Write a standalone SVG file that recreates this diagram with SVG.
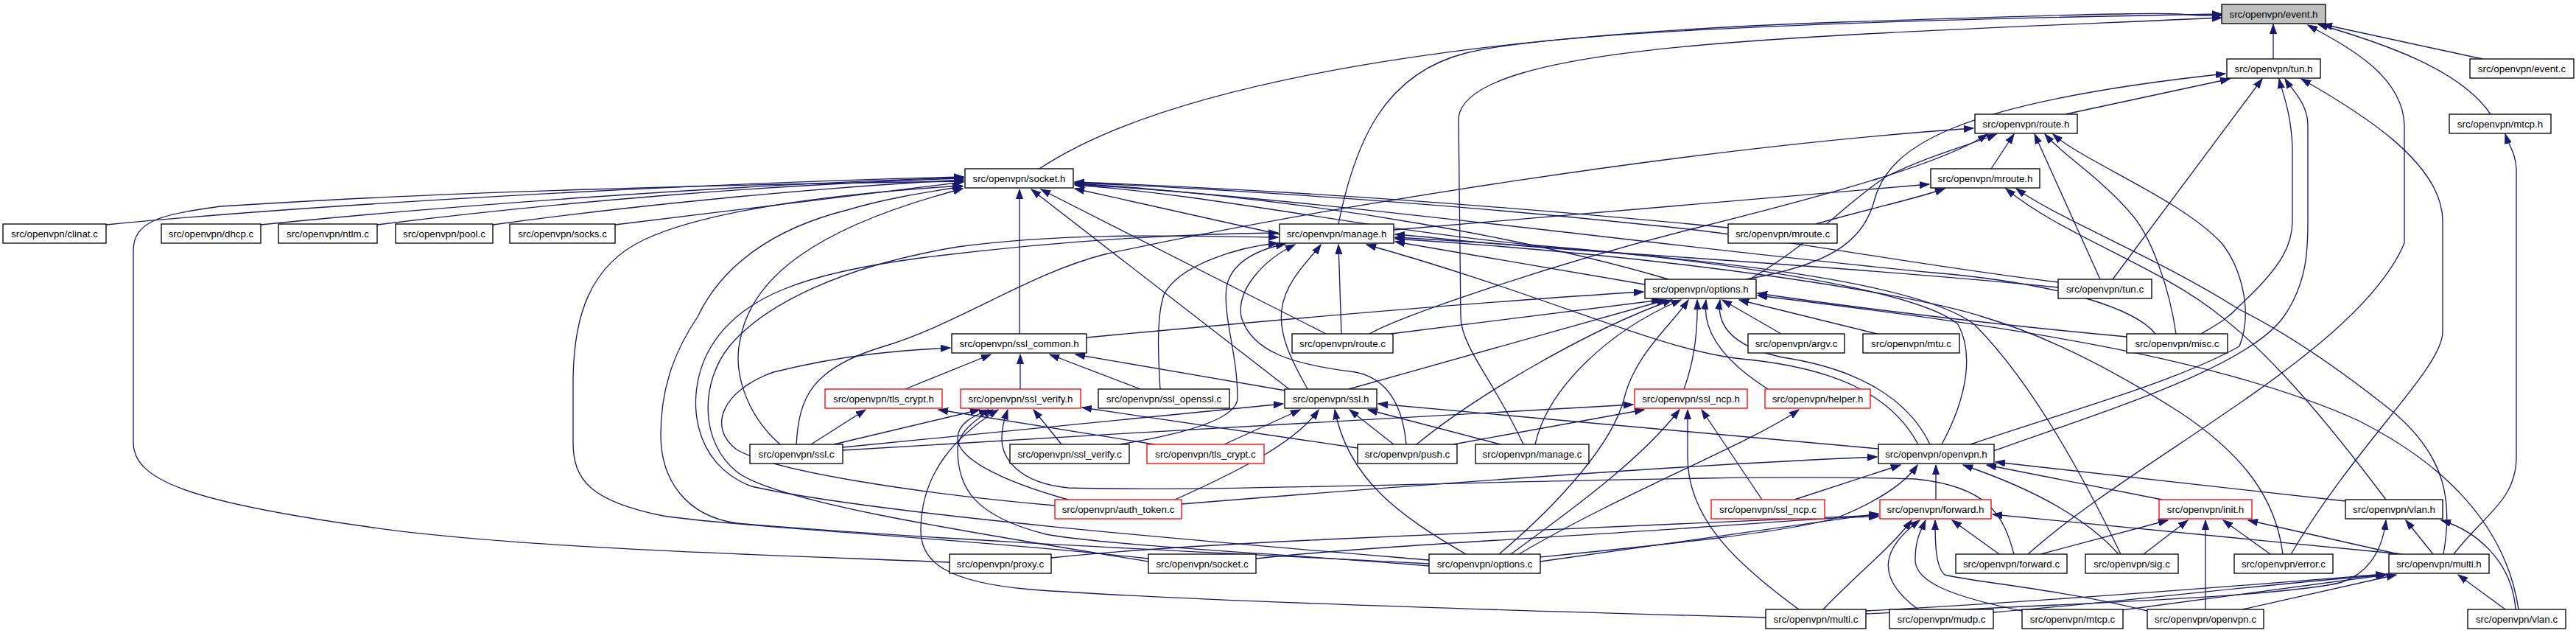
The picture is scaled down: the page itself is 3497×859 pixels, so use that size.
<svg xmlns="http://www.w3.org/2000/svg" width="3497" height="859" viewBox="0 0 3497 859">
<style>
.n rect{fill:#fff;stroke:#000;stroke-width:1.33}
.n.r rect{stroke:#ff0000}
.n.g rect{fill:#bfbfbf}
.n text{font-family:"Liberation Sans",Arial,sans-serif;font-size:13.33px;text-anchor:middle;fill:#000}
.e path{fill:none;stroke:#191970;stroke-width:1.33;marker-end:url(#arr)}
</style>
<defs>
<marker id="arr" viewBox="0 0 14 10" markerWidth="14" markerHeight="10" refX="13" refY="5" orient="auto" markerUnits="userSpaceOnUse"><path d="M0,0.5 L13,5 L0,9.5 z" fill="#191970" stroke="#191970" stroke-width="1"/></marker>
</defs>
<rect width="3497" height="859" fill="#fff"/>
<g id="connectors" class="e">
<path d="M1411,229 C1560,130 1900,50 2500,30 S2900,22 3016,21"/>
<path d="M1817,304 C1840,190 1880,100 1990,72 S2500,28 3016,19"/>
<path d="M2068,603 C2030,520 1983,470 1983,430 L1980,160 C1985,110 2100,80 2300,62 S2800,34 3016,24"/>
<path d="M3086,80 L3086,33"/>
<path d="M3370,80 L3153,33"/>
<path d="M3381,155 C3340,95 3240,60 3147,33"/>
<path d="M2753,752 C2900,620 3200,480 3264,330 L3264,170 C3262,100 3180,60 3133,34"/>
<path d="M2804,155 L3027,107"/>
<path d="M2370,379 C2480,360 2530,330 2545,270 C2565,200 2650,140 3021,100"/>
<path d="M2868,379 L3071,107"/>
<path d="M2706,612 C2850,560 3050,500 3100,430 C3135,380 3133,330 3133,290 L3133,170 C3133,140 3110,120 3102,107"/>
<path d="M2988,453 C3010,440 3025,432 3040,415 C3100,360 3112,330 3112,300 L3112,200 C3110,150 3098,125 3094,107"/>
<path d="M3110,752 C3200,600 3316,500 3316,450 L3316,300 C3316,220 3200,150 3124,107"/>
<path d="M3331,752 C3370,700 3416,680 3416,620 L3416,230 C3416,210 3405,195 3401,182"/>
<path d="M2703,229 L2734,182"/>
<path d="M2851,379 L2762,182"/>
<path d="M2954,453 C2945,390 2920,320 2893,290 C2850,240 2800,210 2776,182"/>
<path d="M2675,603 C2800,560 2950,520 3040,470 C3060,420 3040,360 3016,330 C2960,270 2830,220 2787,182"/>
<path d="M1081,603 C1085,540 1100,500 1200,470 C1300,440 1400,370 1500,345 C1800,280 2300,200 2679,174"/>
<path d="M1859,453 C1900,430 2100,360 2300,310 C2500,260 2640,220 2698,182"/>
<path d="M2375,379 C2460,330 2500,280 2560,240 C2620,210 2680,195 2710,182"/>
<path d="M1892,312 L2619,250"/>
<path d="M2465,304 C2530,285 2600,270 2640,256"/>
<path d="M3239,678 C3150,560 3080,480 3016,430 C2930,360 2800,320 2723,256"/>
<path d="M3317,752 C3330,680 3320,620 3250,560 C3150,480 3080,440 3040,420 C2930,350 2800,300 2737,256"/>
<path d="M144,305 C400,280 900,250 1308,240"/>
<path d="M354,305 C600,280 1000,250 1308,241"/>
<path d="M512,305 C750,275 1050,250 1308,242"/>
<path d="M669,305 C850,280 1100,255 1308,244"/>
<path d="M835,305 C1000,285 1200,260 1308,247"/>
<path d="M1289,763 C1100,755 700,745 500,715 C250,680 181,650 181,600 L181,340 C181,300 220,290 300,280 C600,260 1000,250 1308,246"/>
<path d="M1559,758 C1300,730 1000,715 900,700 C800,680 778,650 778,600 L778,520 C778,430 800,360 875,325 C950,290 1100,265 1306,252"/>
<path d="M1940,765 C1700,752 1300,735 1000,710 C930,700 897,650 897,590 C897,520 920,470 947,430 C980,360 1050,310 1150,285 C1200,270 1250,262 1307,253"/>
<path d="M1059,603 C1010,560 995,500 1005,460 C1020,380 1100,310 1307,256"/>
<path d="M1384,453 L1384,257"/>
<path d="M1750,528 L1400,257"/>
<path d="M1800,453 L1413,257"/>
<path d="M1737,318 L1459,256"/>
<path d="M2346,309 C2100,285 1800,260 1459,247"/>
<path d="M2794,383 C2600,360 2400,320 2235,305 C2000,280 1700,258 1459,248"/>
<path d="M2265,379 C2100,330 1800,270 1459,249"/>
<path d="M2636,603 C2670,540 2680,480 2658,440 C2600,390 2300,350 2085,333 C1850,310 1650,265 1459,251"/>
<path d="M2926,453 C2900,420 2800,385 2625,370 C2300,340 1800,270 1459,250"/>
<path d="M1559,762 C1300,720 1050,680 1000,640 C950,600 950,520 990,470 C1040,410 1150,360 1300,335 C1450,315 1600,320 1735,322"/>
<path d="M1940,760 C1700,740 1200,700 1020,660 C940,630 930,540 960,480 C1000,400 1100,370 1250,350 C1450,325 1600,318 1735,316"/>
<path d="M1575,528 C1572,480 1570,430 1580,400 C1600,360 1680,335 1735,330"/>
<path d="M1520,603 C1600,590 1680,570 1680,540 C1680,480 1660,430 1665,390 C1670,360 1700,340 1745,331"/>
<path d="M1909,603 C1905,560 1890,515 1840,505 C1760,495 1700,480 1685,430 C1678,390 1720,350 1758,332"/>
<path d="M1775,528 C1760,500 1735,460 1740,420 C1745,380 1780,350 1793,332"/>
<path d="M1821,453 L1817,332"/>
<path d="M2604,603 C2570,540 2500,500 2364,487 C2250,475 2100,400 1855,332"/>
<path d="M2233,386 L1894,328"/>
<path d="M2794,390 C2600,370 2300,350 2150,340 C2000,330 1950,322 1894,318"/>
<path d="M2879,752 C2830,650 2760,520 2680,440 C2600,380 2300,345 1894,322"/>
<path d="M3099,752 C3090,680 3050,620 2960,560 C2850,490 2760,450 2692,430 C2600,400 2300,350 1894,324"/>
<path d="M1475,458 C1700,437 2000,410 2231,396"/>
<path d="M1888,453 L2255,407"/>
<path d="M1831,528 L2262,407"/>
<path d="M1923,603 C2000,540 2150,450 2270,407"/>
<path d="M2084,603 C2100,530 2180,450 2282,407"/>
<path d="M2035,752 C2120,680 2190,600 2205,540 C2220,480 2270,440 2292,407"/>
<path d="M2286,528 C2300,490 2305,450 2304,407"/>
<path d="M2400,528 C2340,490 2310,450 2316,407"/>
<path d="M2418,453 L2338,407"/>
<path d="M2548,453 L2361,407"/>
<path d="M2887,457 C2700,440 2500,415 2386,398"/>
<path d="M3419,827 C3400,700 3300,620 3200,570 C3000,480 2700,440 2386,401"/>
<path d="M2620,603 C2590,540 2520,500 2420,485 C2350,470 2330,440 2335,407"/>
<path d="M1432,686 C1250,670 1050,640 1000,610 C960,580 980,530 1050,505 C1150,480 1230,475 1290,472"/>
<path d="M1229,528 L1345,481"/>
<path d="M1385,528 L1385,481"/>
<path d="M1548,528 L1425,481"/>
<path d="M1745,530 L1460,481"/>
<path d="M1101,603 L1175,556"/>
<path d="M1567,603 L1274,556"/>
<path d="M1132,603 L1330,556"/>
<path d="M1450,678 C1350,650 1300,620 1300,595 C1300,575 1320,565 1342,556"/>
<path d="M1940,768 C1750,752 1500,740 1420,725 C1320,700 1300,660 1300,610 C1300,585 1330,565 1348,556"/>
<path d="M2397,838 C2100,830 1600,815 1400,800 C1280,790 1250,760 1250,720 C1250,640 1300,590 1355,556"/>
<path d="M2734,752 C2720,700 2700,660 2600,650 C2300,640 1700,670 1450,662 C1380,655 1360,620 1360,595 C1360,575 1365,565 1368,556"/>
<path d="M1441,603 L1403,556"/>
<path d="M1843,608 L1469,553"/>
<path d="M1144,607 L1742,548"/>
<path d="M1662,603 L1765,556"/>
<path d="M1595,678 C1680,640 1760,600 1790,556"/>
<path d="M1990,752 C1900,700 1830,650 1812,556"/>
<path d="M1892,603 L1832,556"/>
<path d="M2037,603 L1857,556"/>
<path d="M2550,609 L1871,548"/>
<path d="M1144,611 C1500,590 1900,565 2217,549"/>
<path d="M1973,603 L2232,556"/>
<path d="M2051,752 C2150,680 2230,620 2280,556"/>
<path d="M2442,827 C2350,760 2291,700 2291,620 L2291,556"/>
<path d="M2392,678 L2310,556"/>
<path d="M2062,752 C2200,670 2380,600 2442,556"/>
<path d="M2628,678 L2628,631"/>
<path d="M2935,678 L2697,631"/>
<path d="M3184,680 L2709,627"/>
<path d="M2876,752 C2830,700 2750,660 2665,631"/>
<path d="M2436,678 L2580,631"/>
<path d="M2091,756 C2250,740 2450,720 2500,700 C2560,675 2590,650 2603,631"/>
<path d="M1604,684 C1900,660 2300,630 2548,620"/>
<path d="M2091,762 C2250,740 2450,710 2550,697"/>
<path d="M1427,757 C1550,744 1700,737 1800,732 C2100,718 2400,705 2550,699"/>
<path d="M1705,758 C1850,742 2100,730 2300,716 S2500,702 2550,701"/>
<path d="M2714,752 L2650,706"/>
<path d="M2915,829 C2800,800 2680,790 2640,780 C2628,770 2627,740 2627,706"/>
<path d="M2475,827 C2520,780 2570,740 2595,706"/>
<path d="M2604,827 C2540,780 2560,740 2606,706"/>
<path d="M2750,830 C2650,810 2600,790 2600,760 C2600,730 2608,720 2614,706"/>
<path d="M3261,752 L2705,698"/>
<path d="M2770,752 L2943,706"/>
<path d="M2910,752 L2970,706"/>
<path d="M2994,827 L2994,706"/>
<path d="M3082,752 L3018,706"/>
<path d="M3256,752 L3052,706"/>
<path d="M2533,833 C2800,820 3100,810 3180,790 C3220,775 3235,740 3239,706"/>
<path d="M3303,752 L3266,706"/>
<path d="M3415,827 C3410,760 3360,720 3314,706"/>
<path d="M2533,829 C2800,815 3100,790 3238,779"/>
<path d="M2706,831 C2900,815 3100,790 3240,780"/>
<path d="M2880,828 L3240,780"/>
<path d="M3044,827 L3253,780"/>
<path d="M3401,827 L3337,780"/>
</g>
<g id="n-event_h" class="n g"><rect x="3016" y="6" width="141" height="26"/><text x="3086.5" y="24">src/openvpn/event.h</text></g>
<g id="n-tun_h" class="n"><rect x="3023" y="80" width="127" height="26"/><text x="3086.5" y="98">src/openvpn/tun.h</text></g>
<g id="n-event_c" class="n"><rect x="3353" y="80" width="141" height="26"/><text x="3423.5" y="98">src/openvpn/event.c</text></g>
<g id="n-route_h" class="n"><rect x="2681" y="155" width="139" height="26"/><text x="2750.5" y="173">src/openvpn/route.h</text></g>
<g id="n-mtcp_h" class="n"><rect x="3325" y="155" width="138" height="26"/><text x="3394" y="173">src/openvpn/mtcp.h</text></g>
<g id="n-socket_h" class="n"><rect x="1310" y="229" width="147" height="26"/><text x="1383.5" y="247">src/openvpn/socket.h</text></g>
<g id="n-mroute_h" class="n"><rect x="2621" y="229" width="148" height="26"/><text x="2695" y="247">src/openvpn/mroute.h</text></g>
<g id="n-clinat_c" class="n"><rect x="4" y="304" width="140" height="26"/><text x="74" y="322">src/openvpn/clinat.c</text></g>
<g id="n-dhcp_c" class="n"><rect x="219" y="304" width="135" height="26"/><text x="286.5" y="322">src/openvpn/dhcp.c</text></g>
<g id="n-ntlm_c" class="n"><rect x="378" y="304" width="134" height="26"/><text x="445" y="322">src/openvpn/ntlm.c</text></g>
<g id="n-pool_c" class="n"><rect x="537" y="304" width="132" height="26"/><text x="603" y="322">src/openvpn/pool.c</text></g>
<g id="n-socks_c" class="n"><rect x="692" y="304" width="143" height="26"/><text x="763.5" y="322">src/openvpn/socks.c</text></g>
<g id="n-manage_h" class="n"><rect x="1737" y="304" width="155" height="26"/><text x="1814.5" y="322">src/openvpn/manage.h</text></g>
<g id="n-mroute_c" class="n"><rect x="2346" y="304" width="148" height="26"/><text x="2420" y="322">src/openvpn/mroute.c</text></g>
<g id="n-options_h" class="n"><rect x="2233" y="379" width="151" height="26"/><text x="2308.5" y="397">src/openvpn/options.h</text></g>
<g id="n-tun_c" class="n"><rect x="2794" y="379" width="127" height="26"/><text x="2857.5" y="397">src/openvpn/tun.c</text></g>
<g id="n-ssl_common_h" class="n"><rect x="1292" y="453" width="183" height="26"/><text x="1383.5" y="471">src/openvpn/ssl_common.h</text></g>
<g id="n-route_c" class="n"><rect x="1754" y="453" width="137" height="26"/><text x="1822.5" y="471">src/openvpn/route.c</text></g>
<g id="n-argv_c" class="n"><rect x="2373" y="453" width="131" height="26"/><text x="2438.5" y="471">src/openvpn/argv.c</text></g>
<g id="n-mtu_c" class="n"><rect x="2529" y="453" width="131" height="26"/><text x="2594.5" y="471">src/openvpn/mtu.c</text></g>
<g id="n-misc_c" class="n"><rect x="2887" y="453" width="137" height="26"/><text x="2955.5" y="471">src/openvpn/misc.c</text></g>
<g id="n-tls_crypt_h" class="n r"><rect x="1120" y="528" width="159" height="26"/><text x="1199.5" y="546">src/openvpn/tls_crypt.h</text></g>
<g id="n-ssl_verify_h" class="n r"><rect x="1304" y="528" width="163" height="26"/><text x="1385.5" y="546">src/openvpn/ssl_verify.h</text></g>
<g id="n-ssl_openssl_c" class="n"><rect x="1491" y="528" width="178" height="26"/><text x="1580" y="546">src/openvpn/ssl_openssl.c</text></g>
<g id="n-ssl_h" class="n"><rect x="1744" y="528" width="125" height="26"/><text x="1806.5" y="546">src/openvpn/ssl.h</text></g>
<g id="n-ssl_ncp_h" class="n r"><rect x="2219" y="528" width="153" height="26"/><text x="2295.5" y="546">src/openvpn/ssl_ncp.h</text></g>
<g id="n-helper_h" class="n r"><rect x="2396" y="528" width="143" height="26"/><text x="2467.5" y="546">src/openvpn/helper.h</text></g>
<g id="n-ssl_c" class="n"><rect x="1018" y="603" width="126" height="26"/><text x="1081" y="621">src/openvpn/ssl.c</text></g>
<g id="n-ssl_verify_c" class="n"><rect x="1371" y="603" width="162" height="26"/><text x="1452" y="621">src/openvpn/ssl_verify.c</text></g>
<g id="n-tls_crypt_c" class="n r"><rect x="1557" y="603" width="159" height="26"/><text x="1636.5" y="621">src/openvpn/tls_crypt.c</text></g>
<g id="n-push_c" class="n"><rect x="1843" y="603" width="135" height="26"/><text x="1910.5" y="621">src/openvpn/push.c</text></g>
<g id="n-manage_c" class="n"><rect x="2003" y="603" width="154" height="26"/><text x="2080" y="621">src/openvpn/manage.c</text></g>
<g id="n-openvpn_h" class="n"><rect x="2550" y="603" width="157" height="26"/><text x="2628.5" y="621">src/openvpn/openvpn.h</text></g>
<g id="n-auth_token_c" class="n r"><rect x="1432" y="678" width="172" height="26"/><text x="1518" y="696">src/openvpn/auth_token.c</text></g>
<g id="n-ssl_ncp_c" class="n r"><rect x="2323" y="678" width="154" height="26"/><text x="2400" y="696">src/openvpn/ssl_ncp.c</text></g>
<g id="n-forward_h" class="n r"><rect x="2552" y="678" width="151" height="26"/><text x="2627.5" y="696">src/openvpn/forward.h</text></g>
<g id="n-init_h" class="n r"><rect x="2931" y="678" width="126" height="26"/><text x="2994" y="696">src/openvpn/init.h</text></g>
<g id="n-vlan_h" class="n"><rect x="3184" y="678" width="132" height="26"/><text x="3250" y="696">src/openvpn/vlan.h</text></g>
<g id="n-proxy_c" class="n"><rect x="1289" y="752" width="138" height="26"/><text x="1358" y="770">src/openvpn/proxy.c</text></g>
<g id="n-socket_c" class="n"><rect x="1559" y="752" width="146" height="26"/><text x="1632" y="770">src/openvpn/socket.c</text></g>
<g id="n-options_c" class="n"><rect x="1940" y="752" width="151" height="26"/><text x="2015.5" y="770">src/openvpn/options.c</text></g>
<g id="n-forward_c" class="n"><rect x="2655" y="752" width="151" height="26"/><text x="2730.5" y="770">src/openvpn/forward.c</text></g>
<g id="n-sig_c" class="n"><rect x="2831" y="752" width="126" height="26"/><text x="2894" y="770">src/openvpn/sig.c</text></g>
<g id="n-error_c" class="n"><rect x="3033" y="752" width="134" height="26"/><text x="3100" y="770">src/openvpn/error.c</text></g>
<g id="n-multi_h" class="n"><rect x="3243" y="752" width="136" height="26"/><text x="3311" y="770">src/openvpn/multi.h</text></g>
<g id="n-multi_c" class="n"><rect x="2397" y="827" width="136" height="26"/><text x="2465" y="845">src/openvpn/multi.c</text></g>
<g id="n-mudp_c" class="n"><rect x="2565" y="827" width="141" height="26"/><text x="2635.5" y="845">src/openvpn/mudp.c</text></g>
<g id="n-mtcp_c" class="n"><rect x="2745" y="827" width="137" height="26"/><text x="2813.5" y="845">src/openvpn/mtcp.c</text></g>
<g id="n-openvpn_c" class="n"><rect x="2915" y="827" width="158" height="26"/><text x="2994" y="845">src/openvpn/openvpn.c</text></g>
<g id="n-vlan_c" class="n"><rect x="3350" y="827" width="133" height="26"/><text x="3416.5" y="845">src/openvpn/vlan.c</text></g>
</svg>
